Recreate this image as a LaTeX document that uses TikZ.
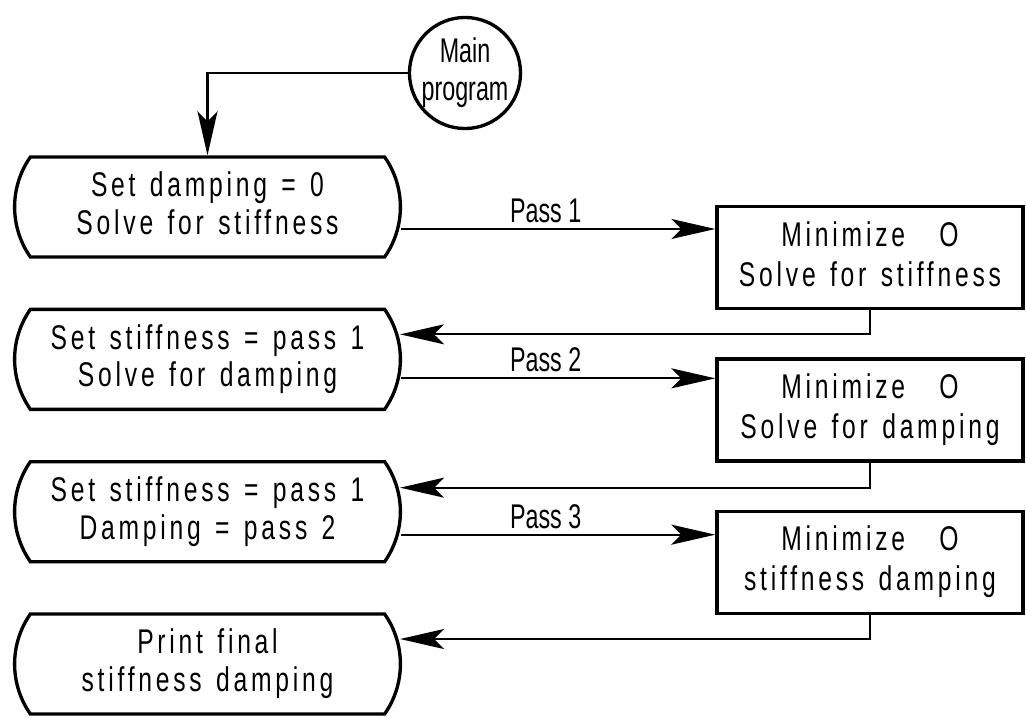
\documentclass[tikz,border=0pt]{standalone}
\usepackage{fontspec}
\setmainfont{Liberation Sans}[FakeStretch=0.68]
\newfontfamily\boxfont{Liberation Sans}[FakeStretch=0.72, LetterSpace=11, WordSpace=1.35]
\usepackage{tikz}
\usetikzlibrary{calc, positioning, arrows.meta, shapes.misc}
\tikzset{
    startNode/.style={circle, draw=black, line width=1.9pt, minimum size=1.92cm, inner sep=0pt, align=center, font=\fontsize{19.5}{21.6}\selectfont},
    passStep/.style={rounded rectangle, rounded rectangle arc length=70, draw=black, line width=1.9pt, minimum width=7.95cm, minimum height=2cm, text depth=0.15cm, align=center, font=\fontsize{19.5}{21.6}\selectfont\boxfont},
    solveBox/.style={rectangle, draw=black, line width=1.9pt, minimum width=6.12cm, minimum height=2.04cm, text depth=0.15cm, align=center, font=\fontsize{19.5}{22.6}\selectfont\boxfont},
    arrow/.style={-{Stealth[length=0.88cm, width=0.4cm, inset=0.2cm]}, line width=1.3pt},
    passLabel/.style={above=0.1cm, inner sep=0pt, font=\fontsize{19.5}{21.6}\selectfont}
}
\begin{document}
\begin{tikzpicture}
        \useasboundingbox (0,0) rectangle (20.52,-14.38);

        \node[startNode] (Main) at (9.3,-1.46) {Main\\program};

        % left column
        \node[passStep] (Set1) at (4.15,-4.14) {Set damping = 0\\Solve for stiffness};
        \node[passStep, below=0.98cm of Set1] (Set2) {Set stiffness = pass 1\\Solve for damping};
        \node[passStep, below=0.98cm of Set2] (Set3) {Set stiffness = pass 1\\Damping = pass 2};
        \node[passStep, below=0.98cm of Set3] (Final) {Print final\\stiffness damping};

        % right column
        \node[solveBox] (Min1) at (17.4,-5.15) {Minimize\hspace{1em}O\\Solve for stiffness};
        \node[solveBox, below=0.94cm of Min1] (Min2) {Minimize\hspace{1em}O\\Solve for damping};
        \node[solveBox, below=0.94cm of Min2] (Min3) {Minimize\hspace{1em}O\\stiffness damping};

        \draw[arrow] (Main.west) -| (Set1.north);

        % passes
        \coordinate (P1) at ($(Set1.east)+(-0.02,-0.44)$);
        \coordinate (P2) at ($(Set2.east)+(-0.02,-0.38)$);
        \coordinate (P3) at ($(Set3.east)+(-0.02,-0.46)$);
        \draw[arrow] (P1) -- node[passLabel, pos=0.46] {Pass 1} (P1 -| Min1.west);
        \draw[arrow] (P2) -- node[passLabel, pos=0.46] {Pass 2} (P2 -| Min2.west);
        \draw[arrow] (P3) -- node[passLabel, pos=0.46] {Pass 3} (P3 -| Min3.west);

        % results back
        \draw[arrow] (Min1.south) |- ($(Set2.east)+(-0.04,0.5)$);
        \draw[arrow] (Min2.south) |- ($(Set3.east)+(-0.04,0.48)$);
        \draw[arrow] (Min3.south) |- ($(Final.east)+(-0.04,0.5)$);

    \end{tikzpicture}
\end{document}
